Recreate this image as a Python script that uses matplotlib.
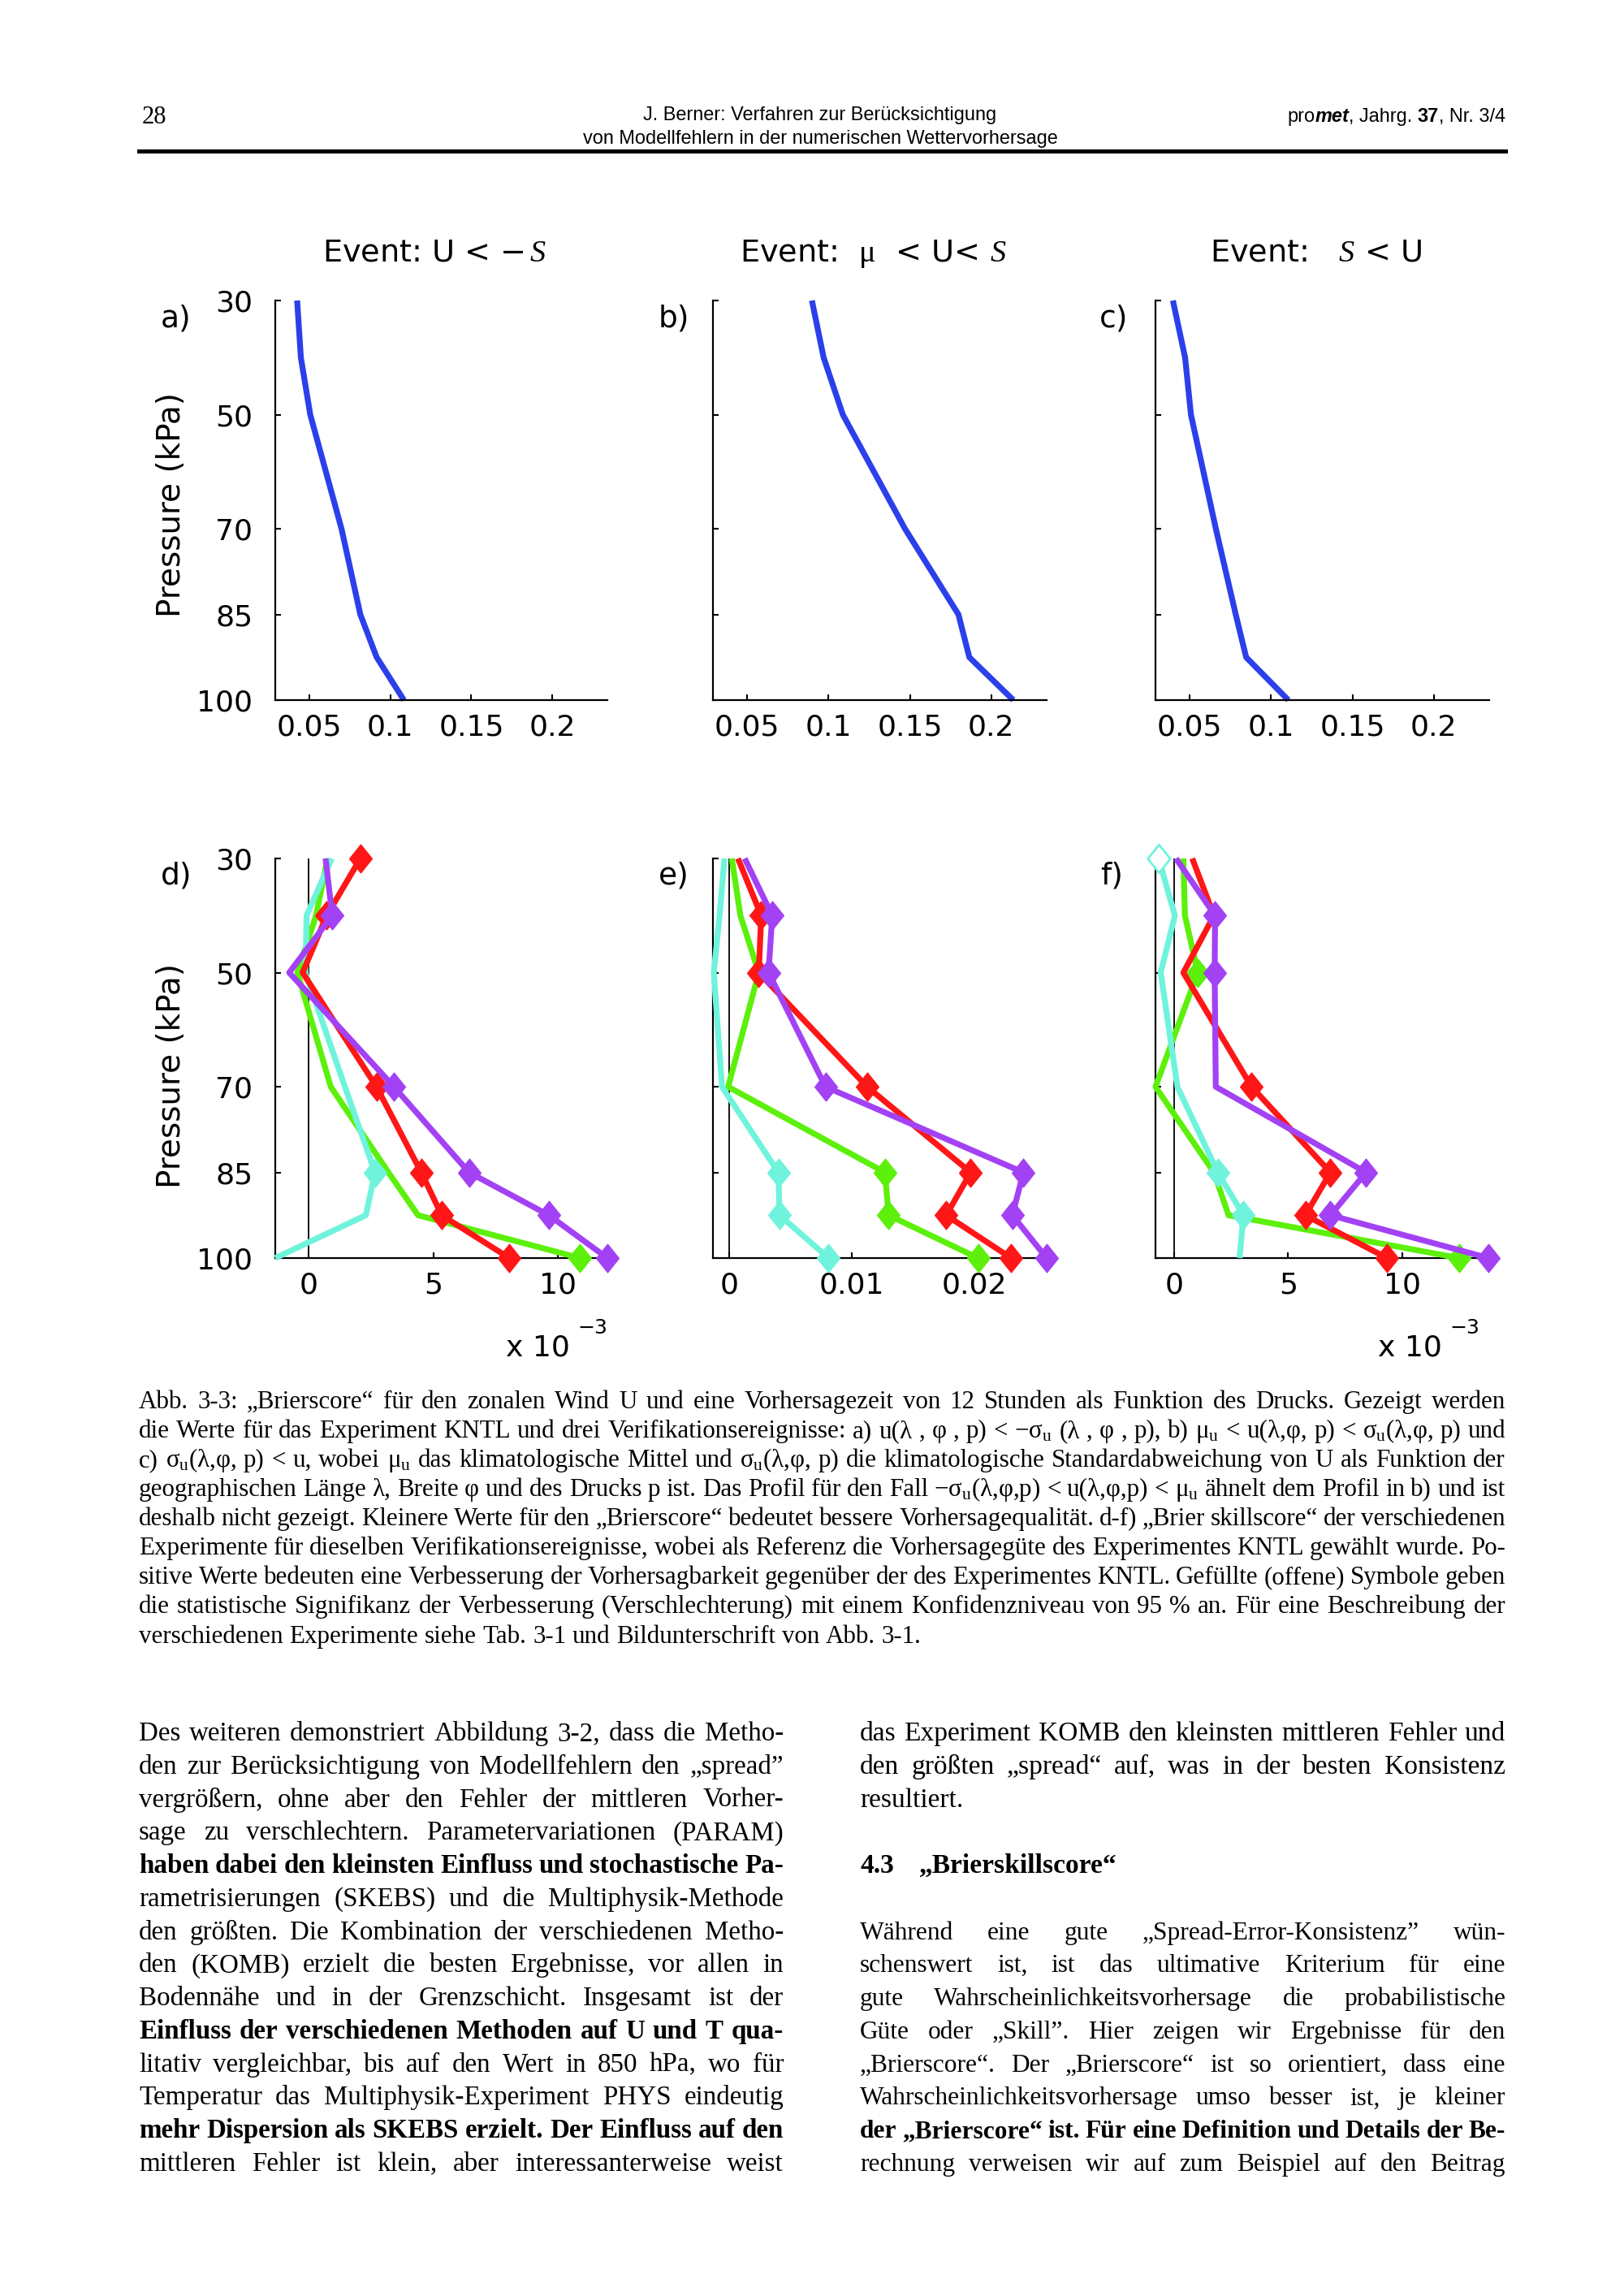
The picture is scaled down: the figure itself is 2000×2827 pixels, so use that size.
import matplotlib
matplotlib.use('Agg')
import matplotlib.pyplot as plt
from matplotlib.lines import Line2D
from matplotlib.path import Path

W_PX, H_PX, DPI = 2000, 2827, 100

# pressure levels (kPa)
levels = [30, 40, 50, 70, 85, 92.5, 100]
ytick_vals = [30, 50, 70, 85, 100]

# Brier score, KNTL (a-c)
bs_a = [0.0425, 0.0448, 0.0506, 0.0699, 0.0815, 0.0916, 0.1084]
bs_b = [0.0898, 0.0970, 0.1088, 0.1470, 0.1798, 0.1865, 0.2135]
bs_c = [0.0397, 0.0472, 0.0508, 0.0661, 0.0783, 0.0847, 0.1106]

# Brier skill score (d, f in 1e-3 units, e absolute)
# sig: 1 = filled symbol, 2 = open symbol, 0 = none
d_green = [0.75, 0.29, -0.46, 0.88, 3.2, 4.39, 10.9]
d_green_sig = [0, 0, 0, 0, 0, 0, 1]
d_cyan = [0.92, -0.09, -0.14, 1.45, 2.66, 2.29, -1.35]
d_cyan_sig = [0, 0, 0, 0, 1, 0, 0]
d_red = [2.07, 0.72, -0.25, 2.72, 4.52, 5.34, 8.06]
d_red_sig = [1, 1, 0, 1, 1, 1, 1]
d_purple = [0.67, 0.94, -0.79, 3.42, 6.44, 9.65, 12.0]
d_purple_sig = [0, 1, 0, 1, 1, 1, 1]

e_green = [0.0002, 0.0009, 0.0024, -0.0001, 0.0127, 0.0130, 0.0203]
e_green_sig = [0, 0, 0, 0, 1, 1, 1]
e_cyan = [-0.0004, -0.0008, -0.00127, -0.0006, 0.0040, 0.0041, 0.0081]
e_cyan_sig = [0, 0, 0, 0, 1, 1, 1]
e_red = [0.0007, 0.0026, 0.0024, 0.01125, 0.0197, 0.0177, 0.0230]
e_red_sig = [0, 1, 1, 1, 1, 1, 1]
e_purple = [0.00125, 0.0035, 0.0032, 0.00785, 0.0240, 0.0231, 0.0259]
e_purple_sig = [0, 1, 1, 1, 1, 1, 1]

f_green = [0.41, 0.48, 1.04, -0.81, 1.75, 2.39, 12.48]
f_green_sig = [0, 0, 1, 0, 0, 0, 1]
f_cyan = [-0.67, 0.04, -0.58, 0.15, 1.92, 3.04, 2.87]
f_cyan_sig = [2, 0, 0, 0, 1, 1, 0]
f_red = [0.80, 1.75, 0.41, 3.40, 6.85, 5.75, 9.33]
f_red_sig = [0, 0, 0, 1, 1, 1, 1]
f_purple = [0.09, 1.80, 1.78, 1.83, 8.41, 6.85, 13.77]
f_purple_sig = [0, 1, 1, 0, 1, 1, 1]

top_titles = ['Event: U < −$\\,S$', 'Event:  $\\mathrm{\\mu}$  < U< $S$', 'Event:   $S$ < U']

BLUE = '#2b40ea'
GREEN = '#5cf00c'
CYAN = '#6ff3dc'
RED = '#ff1616'
PURPLE = '#a342f4'

caption = [
    'Abb. 3-3: „Brierscore“ für den zonalen Wind U und eine Vorhersagezeit von 12 Stunden als Funktion des Drucks. Gezeigt werden',
    'die Werte für das Experiment KNTL und drei Verifikationsereignisse: a) u(λ , φ , p) < −σ$_\\mathrm{u}$ (λ , φ , p), b) μ$_\\mathrm{u}$ < u(λ,φ, p) < σ$_\\mathrm{u}$(λ,φ, p) und',
    'c) σ$_\\mathrm{u}$(λ,φ, p) < u, wobei μ$_\\mathrm{u}$ das klimatologische Mittel und σ$_\\mathrm{u}$(λ,φ, p) die klimatologische Standardabweichung von U als Funktion der',
    'geographischen Länge λ, Breite φ und des Drucks p ist. Das Profil für den Fall −σ$_\\mathrm{u}$(λ,φ,p) < u(λ,φ,p) < μ$_\\mathrm{u}$ ähnelt dem Profil in b) und ist',
    'deshalb nicht gezeigt. Kleinere Werte für den „Brierscore“ bedeutet bessere Vorhersagequalität. d-f) „Brier skillscore“ der verschiedenen',
    'Experimente für dieselben Verifikationsereignisse, wobei als Referenz die Vorhersagegüte des Experimentes KNTL gewählt wurde. Po-',
    'sitive Werte bedeuten eine Verbesserung der Vorhersagbarkeit gegenüber der des Experimentes KNTL. Gefüllte (offene) Symbole geben',
    'die statistische Signifikanz der Verbesserung (Verschlechterung) mit einem Konfidenzniveau von 95 % an. Für eine Beschreibung der',
    'verschiedenen Experimente siehe Tab. 3-1 und Bildunterschrift von Abb. 3-1.',
]

left_col = [
    'Des weiteren demonstriert Abbildung 3-2, dass die Metho-',
    'den zur Berücksichtigung von Modellfehlern den „spread”',
    'vergrößern, ohne aber den Fehler der mittleren Vorher-',
    'sage zu verschlechtern. Parametervariationen (PARAM)',
    'haben dabei den kleinsten Einfluss und stochastische Pa-',
    'rametrisierungen (SKEBS) und die Multiphysik-Methode',
    'den größten. Die Kombination der verschiedenen Metho-',
    'den (KOMB) erzielt die besten Ergebnisse, vor allen in',
    'Bodennähe und in der Grenzschicht. Insgesamt ist der',
    'Einfluss der verschiedenen Methoden auf U und T qua-',
    'litativ vergleichbar, bis auf den Wert in 850 hPa, wo für',
    'Temperatur das Multiphysik-Experiment PHYS eindeutig',
    'mehr Dispersion als SKEBS erzielt. Der Einfluss auf den',
    'mittleren Fehler ist klein, aber interessanterweise weist',
]
left_bold = [4, 9, 12]

right_col_a = [
    'das Experiment KOMB den kleinsten mittleren Fehler und',
    'den größten „spread“ auf, was in der besten Konsistenz',
    'resultiert.',
]
right_col_b = [
    'Während eine gute „Spread-Error-Konsistenz” wün-',
    'schenswert ist, ist das ultimative Kriterium für eine',
    'gute Wahrscheinlichkeitsvorhersage die probabilistische',
    'Güte oder „Skill”. Hier zeigen wir Ergebnisse für den',
    '„Brierscore“. Der „Brierscore“ ist so orientiert, dass eine',
    'Wahrscheinlichkeitsvorhersage umso besser ist, je kleiner',
    'der „Brierscore“ ist. Für eine Definition und Details der Be-',
    'rechnung verweisen wir auf zum Beispiel auf den Beitrag',
]
right_bold = [6]

plt.rcParams['font.family'] = ['DejaVu Sans']
plt.rcParams['mathtext.fontset'] = 'custom'
plt.rcParams['mathtext.rm'] = 'Liberation Serif'
plt.rcParams['mathtext.it'] = 'Liberation Serif:italic'
plt.rcParams['mathtext.bf'] = 'Liberation Serif:bold'

SERIF = ['Liberation Serif', 'DejaVu Serif']
SANS = ['Liberation Sans', 'DejaVu Sans']

fig = plt.figure(figsize=(W_PX / DPI, H_PX / DPI), dpi=DPI)
fig.patch.set_facecolor('white')
rend = fig.canvas.get_renderer()


def fx(px):
    return px / W_PX


def fy(py):
    return 1 - py / H_PX


def tw(t):
    return t.get_window_extent(renderer=rend).width


# diamond a bit taller than wide, like the original symbols
DIAMOND = Path([(0, 1), (0.8, 0), (0, -1), (-0.8, 0), (0, 1)],
               [Path.MOVETO, Path.LINETO, Path.LINETO, Path.LINETO, Path.CLOSEPOLY])


def make_axes(x0, x1, y0, y1):
    ax = fig.add_axes([fx(x0), fy(y1), (x1 - x0) / W_PX, (y1 - y0) / H_PX])
    ax.patch.set_alpha(0)
    for s in ['top', 'right']:
        ax.spines[s].set_visible(False)
    for s in ['left', 'bottom']:
        ax.spines[s].set_linewidth(1.6)
    ax.set_ylim(100, 30)
    ax.set_yticks(ytick_vals)
    ax.tick_params(direction='in', length=5, width=1.5, labelsize=26)
    ax.tick_params(axis='x', pad=12)
    ax.tick_params(axis='y', pad=20)
    return ax


col_x = [(339, 748), (878, 1289), (1423, 1834)]
top_y = (370, 862)
bot_y = (1057, 1549)

# ---- top row: Brier score
for i, (vals, title) in enumerate(zip([bs_a, bs_b, bs_c], top_titles)):
    x0, x1 = col_x[i]
    ax = make_axes(x0, x1, *top_y)
    ax.plot(vals, levels, color=BLUE, lw=5.2, solid_capstyle='butt', clip_on=False)
    ax.set_xlim(0.029, 0.234)
    ax.set_xticks([0.05, 0.1, 0.15, 0.2])
    ax.set_xticklabels(['0.05', '0.1', '0.15', '0.2'])
    if i == 0:
        ax.set_yticklabels([str(v) for v in ytick_vals])
    else:
        ax.set_yticklabels([])
    fig.text(fx((x0 + x1) / 2 - 8), fy(312), title, fontsize=27.5, ha='center', va='center')

# ---- bottom row: Brier skill score
bottom = [
    ([d_green, d_cyan, d_red, d_purple], [d_green_sig, d_cyan_sig, d_red_sig, d_purple_sig],
     (-1.35, 12.0), [0, 5, 10], ['0', '5', '10']),
    ([e_green, e_cyan, e_red, e_purple], [e_green_sig, e_cyan_sig, e_red_sig, e_purple_sig],
     (-0.00134, 0.0259), [0, 0.01, 0.02], ['0', '0.01', '0.02']),
    ([f_green, f_cyan, f_red, f_purple], [f_green_sig, f_cyan_sig, f_red_sig, f_purple_sig],
     (-0.81, 13.8), [0, 5, 10], ['0', '5', '10']),
]
colors = [GREEN, CYAN, RED, PURPLE]

for i, (series, sigs, xl, xt, xtl) in enumerate(bottom):
    x0, x1 = col_x[i]
    ax = make_axes(x0, x1, *bot_y)
    ax.axvline(0, color='black', lw=1.3, zorder=1)
    for k, (vals, sig, c) in enumerate(zip(series, sigs, colors)):
        z = 3 + k
        ax.plot(vals, levels, color=c, lw=5.2, solid_capstyle='butt', clip_on=False, zorder=z)
        fx_ = [v for v, s in zip(vals, sig) if s == 1]
        fy_ = [p for p, s in zip(levels, sig) if s == 1]
        ax.plot(fx_, fy_, ls='none', marker=DIAMOND, ms=25, color=c, mec=c, clip_on=False, zorder=z)
        ox = [v for v, s in zip(vals, sig) if s == 2]
        oy = [p for p, s in zip(levels, sig) if s == 2]
        ax.plot(ox, oy, ls='none', marker=DIAMOND, ms=25, mfc='white', mec=c, mew=2,
                clip_on=False, zorder=z)
    ax.set_xlim(*xl)
    ax.set_xticks(xt)
    ax.set_xticklabels(xtl)
    if i == 0:
        ax.set_yticklabels([str(v) for v in ytick_vals])
    else:
        ax.set_yticklabels([])

# exponent labels
for xc in [662, 1736]:
    fig.text(fx(xc), fy(1659), 'x 10', fontsize=26, ha='center', va='center')
    fig.text(fx(xc + 68), fy(1635), '−3', fontsize=18, ha='center', va='center')

# y labels and panel letters
fig.text(fx(211), fy(622), 'Pressure (kPa)', rotation=90, fontsize=28, ha='center', va='center')
fig.text(fx(211), fy(1325), 'Pressure (kPa)', rotation=90, fontsize=28, ha='center', va='center')
for lab, px, py in [('a)', 217, 392), ('b)', 830, 392), ('c)', 1372, 392),
                    ('d)', 217, 1079), ('e)', 830, 1079), ('f)', 1369, 1079)]:
    fig.text(fx(px), fy(py), lab, fontsize=27, ha='center', va='center')

# ---- page header
fig.text(fx(175), fy(144), '28', fontsize=22, family=SERIF, ha='left', va='center')

h1 = fig.text(fx(1010), fy(142), 'J. Berner: Verfahren zur Berücksichtigung', fontsize=16,
              family=SANS, ha='center', va='center')
h2 = fig.text(fx(1010), fy(171), 'von Modellfehlern in der numerischen Wettervorhersage', fontsize=16,
              family=SANS, ha='center', va='center')
hs = 16 * 586 / tw(h2)
h1.set_fontsize(hs)
h2.set_fontsize(hs)

pieces = [('pro', 'normal', 'normal'), ('met', 'bold', 'italic'), (', Jahrg. ', 'normal', 'normal'),
          ('37', 'bold', 'normal'), (', Nr. 3/4', 'normal', 'normal')]
ptxt = [fig.text(0, fy(144), s, fontsize=hs, family=SANS, fontweight=w, fontstyle=st,
                 ha='left', va='center') for s, w, st in pieces]
pw = [tw(t) for t in ptxt]
xx = 1854 - sum(pw)
for t, w in zip(ptxt, pw):
    t.set_x(fx(xx))
    xx += w

fig.add_artist(Line2D([fx(171), fx(1854)], [fy(186), fy(186)], lw=3.6, color='black'))


# ---- justified text blocks
def put_block(lines, x0, x1, y_first, step, size, bold_rows=(), last_ragged=True, rows=None,
              min_space=0.22):
    span = x1 - x0
    made = []
    for j, line in enumerate(lines):
        row = rows[j] if rows else j
        w = 'bold' if j in bold_rows else 'normal'
        ts = [fig.text(0, fy(y_first + row * step), word, fontsize=size, family=SERIF,
                       fontweight=w, ha='left', va='baseline') for word in line.split()]
        made.append(ts)
    # common scale so no justified line overflows
    sp = min_space * size * DPI / 72
    k = 1.0
    for ts in made:
        nat = sum(tw(t) for t in ts) + sp * (len(ts) - 1)
        k = min(k, span / nat)
    for j, ts in enumerate(made):
        if k < 1:
            for t in ts:
                t.set_fontsize(size * k)
        ws = [tw(t) for t in ts]
        ragged = last_ragged and j == len(made) - 1
        if len(ts) > 1 and not ragged:
            gap = (span - sum(ws)) / (len(ts) - 1)
        else:
            gap = 0.25 * size * k * DPI / 72
        x = x0
        for t, w in zip(ts, ws):
            t.set_x(fx(x))
            x += w + gap
    return size * k


put_block(caption, 171, 1854, 1734, 36.07, 26)
body_size = put_block(left_col + right_col_b, 171, 965, -1000, 0, 30, bold_rows=(),
                      last_ragged=False)
# the measuring pass above only sets a shared size; clear those texts
for t in list(fig.texts)[-sum(len(l.split()) for l in left_col + right_col_b):]:
    t.remove()

put_block(left_col, 171, 965, 2143, 40.76, body_size, bold_rows=left_bold, last_ragged=False)
put_block(right_col_a, 1059, 1854, 2143, 40.76, body_size, last_ragged=True)
put_block(right_col_b, 1059, 1854, 2143, 40.76, body_size, bold_rows=right_bold, last_ragged=False,
          rows=list(range(6, 14)))

# section heading
yh = fy(2143 + 4 * 40.76)
fig.text(fx(1059), yh, '4.3', fontsize=body_size, family=SERIF, fontweight='bold', ha='left', va='baseline')
fig.text(fx(1131), yh, '„Brierskillscore“', fontsize=body_size, family=SERIF, fontweight='bold',
         ha='left', va='baseline')

fig.savefig('out.png', dpi=DPI, facecolor='white')
